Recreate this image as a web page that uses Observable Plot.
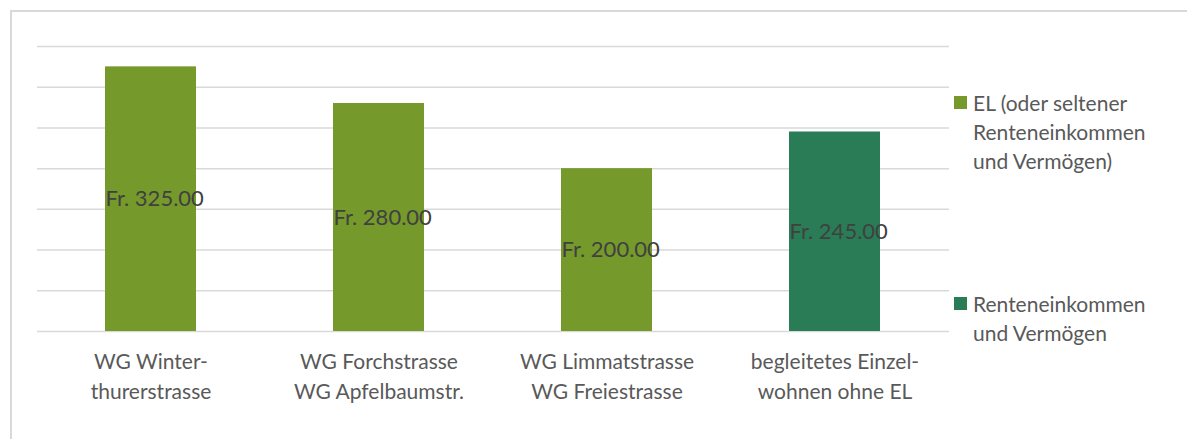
<!DOCTYPE html>
<html>
<head>
<meta charset="utf-8">
<script src="https://cdn.jsdelivr.net/npm/d3@7"></script>
<script src="https://cdn.jsdelivr.net/npm/@observablehq/plot@0.6"></script>
<style>
  html, body { margin: 0; padding: 0; background: #fff; }
  #wrap { position: relative; width: 1187px; height: 439px; overflow: hidden; font-family: Lato, "Open Sans", sans-serif; }
  #frame { position: absolute; left: 10px; top: 10px; right: -10px; bottom: -10px; border-top: 2px solid #d9d9d9; border-left: 2px solid #d9d9d9; }
  #chart { position: absolute; left: 0; top: 0; }
  .leg { position: absolute; left: 954px; font-size: 21px; line-height: 29px; color: #595959; }
  .leg .sw { position: absolute; left: 0; top: 8px; width: 13px; height: 13px; }
  .leg .tx { margin-left: 19px; white-space: pre; }
</style>
</head>
<body>
<div id="wrap">
  <div id="frame"></div>
  <div id="chart"></div>
  <div id="legend"></div>
</div>
<script>
const categories = [
  "WG Winter-\nthurerstrasse",
  "WG Forchstrasse\nWG Apfelbaumstr.",
  "WG Limmatstrasse\nWG Freiestrasse",
  "begleitetes Einzel-\nwohnen ohne EL"
];
const values = [325, 280, 200, 245];
const groups = [
  "EL (oder seltener\nRenteneinkommen\nund Vermögen)",
  "EL (oder seltener\nRenteneinkommen\nund Vermögen)",
  "EL (oder seltener\nRenteneinkommen\nund Vermögen)",
  "Renteneinkommen\nund Vermögen"
];
const seriesNames = ["EL (oder seltener\nRenteneinkommen\nund Vermögen)", "Renteneinkommen\nund Vermögen"];
const seriesColors = ["#76992b", "#297c55"];
const gridTicks = [0, 50, 100, 150, 200, 250, 300, 350];

const data = categories.map((c, i) => ({cat: c, value: values[i], group: groups[i]}));

const chart = Plot.plot({
  width: 960,
  height: 439,
  marginLeft: 37,
  marginRight: 11,
  marginTop: 46,
  marginBottom: 108,
  style: {background: "transparent", fontFamily: "Lato, 'Open Sans', sans-serif"},
  x: {domain: categories, paddingInner: 0.6, paddingOuter: 0.3},
  y: {domain: [0, 350], axis: null},
  color: {domain: seriesNames, range: seriesColors},
  marks: [
    Plot.ruleY(gridTicks, {stroke: "#d9d9d9", strokeWidth: 1.5}),
    Plot.barY(data, {x: "cat", y: "value", fill: "group"}),
    Plot.text(data, {x: "cat", y: d => d.value / 2, text: d => "Fr. " + d3.format(".2f")(d.value),
      textAnchor: "start", dx: -45.6, fontSize: 22, fill: "#404040"}),
    Plot.axisX({tickSize: 0, tickPadding: 17, fontSize: 21, lineHeight: 1.4, fill: "#595959", label: null}),
  ]
});
document.getElementById("chart").appendChild(chart);

const legendTops = [88, 289];
const leg = document.getElementById("legend");
seriesNames.forEach((n, i) => {
  const d = document.createElement("div");
  d.className = "leg";
  d.style.top = legendTops[i] + "px";
  d.innerHTML = `<div class="sw" style="background:${seriesColors[i]}"></div><div class="tx"></div>`;
  d.querySelector(".tx").textContent = n;
  leg.appendChild(d);
});
</script>
</body>
</html>
